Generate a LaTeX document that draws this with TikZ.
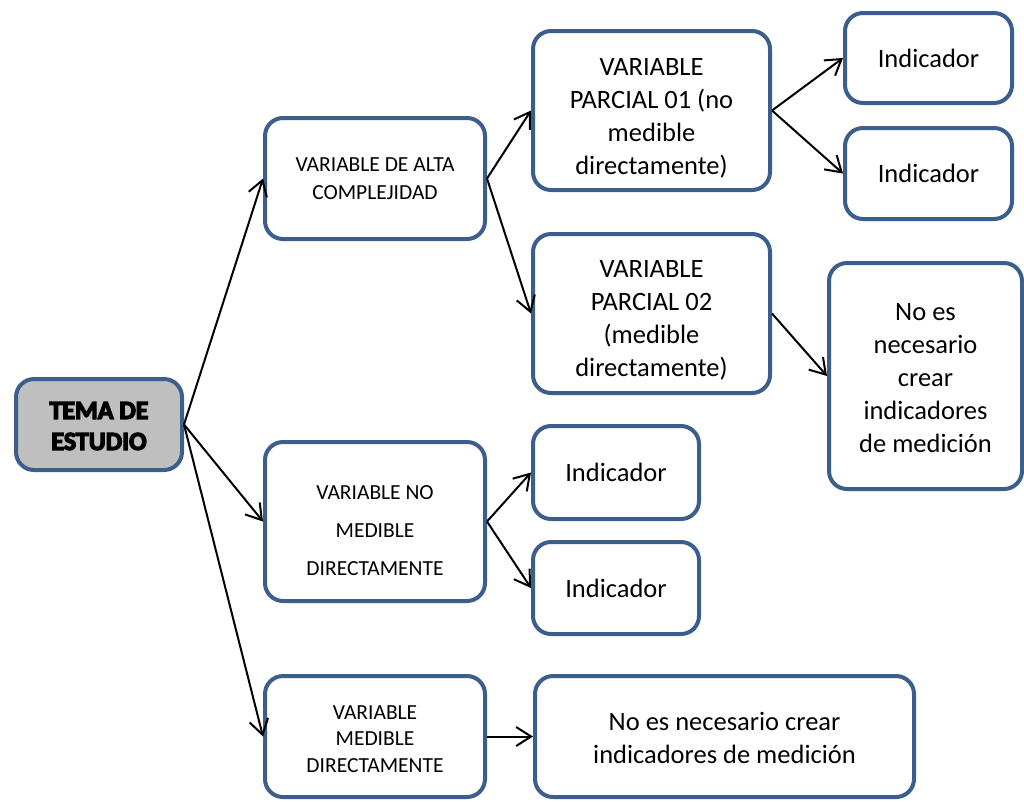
\documentclass[tikz,border=0pt]{standalone}
\usepackage{fontspec}
\setmainfont{Carlito}
\newfontfamily\heavyfont[FakeBold=5]{Carlito Bold}
\usetikzlibrary{arrows.meta}
\definecolor{bordercol}{RGB}{59,94,140}
\definecolor{temafill}{RGB}{191,191,191}
\newcommand\dn[1]{\rule{0pt}{#1}}
\tikzset{
  box/.style={draw=bordercol, line width=4pt, rounded corners=18pt, fill=white, align=center, inner sep=0pt},
  bigtxt/.style={font=\fontsize{26.5}{33}\selectfont},
  smalltxt/.style={font=\fontsize{21.5}{28}\selectfont},
  conn/.style={line width=2pt, -{Straight Barb[length=15pt,width=19pt,line width=2pt]}},
}
\begin{document}
\begin{tikzpicture}[x=1pt,y=1pt]
\useasboundingbox (0,0) rectangle (1024,-801);
\node[box, fill=temafill, minimum width=166pt, minimum height=91pt, font=\heavyfont\fontsize{26}{31}\selectfont] (tema) at (99,-424.5) {\dn{20pt}TEMA DE\\ESTUDIO};
\node[box, smalltxt, minimum width=220pt, minimum height=121pt] (va) at (375,-178.5) {VARIABLE DE ALTA\\COMPLEJIDAD};
\node[box, bigtxt, minimum width=237pt, minimum height=159pt] (vp1) at (651.5,-110.5) {\dn{33pt}VARIABLE\\PARCIAL 01 (no\\medible\\directamente)};
\node[box, bigtxt, minimum width=167pt, minimum height=90pt] (i1) at (928.5,-58) {Indicador};
\node[box, bigtxt, minimum width=167pt, minimum height=91pt] (i2) at (928.5,-173.5) {Indicador};
\node[box, bigtxt, minimum width=237pt, minimum height=159pt] (vp2) at (651.5,-313.5) {\dn{30pt}VARIABLE\\PARCIAL 02\\(medible\\directamente)};
\node[box, bigtxt, minimum width=193pt, minimum height=226pt] (nr) at (925.5,-376) {\dn{21pt}No es\\necesario\\crear\\indicadores\\de medición};
\node[box, font=\fontsize{21.5}{38}\selectfont, minimum width=220pt, minimum height=159pt] (vn) at (375,-521.5) {\dn{32pt}VARIABLE NO\\MEDIBLE\\DIRECTAMENTE};
\node[box, bigtxt, minimum width=166pt, minimum height=93pt] (i3) at (616,-472.5) {Indicador};
\node[box, bigtxt, minimum width=166pt, minimum height=92pt] (i4) at (616,-588) {Indicador};
\node[box, font=\fontsize{21.5}{26.5}\selectfont, minimum width=220pt, minimum height=121pt] (vm) at (375,-736.5) {\dn{19pt}VARIABLE\\MEDIBLE\\DIRECTAMENTE};
\node[box, bigtxt, minimum width=379pt, minimum height=121pt] (nb) at (724.5,-736.5) {\dn{22pt}No es necesario crear\\indicadores de medición};
\draw[conn] (tema.east) -- (va.west);
\draw[conn] (tema.east) -- (vn.west);
\draw[conn] (tema.east) -- (vm.west);
\draw[conn] (va.east) -- (vp1.west);
\draw[conn] (va.east) -- (vp2.west);
\draw[conn] (vp1.east) -- (i1.west);
\draw[conn] (vp1.east) -- (i2.west);
\draw[conn] (vp2.east) -- (nr.west);
\draw[conn] (vn.east) -- (i3.west);
\draw[conn] (vn.east) -- (i4.west);
\draw[conn] (vm.east) -- (nb.west);
\end{tikzpicture}
\end{document}
